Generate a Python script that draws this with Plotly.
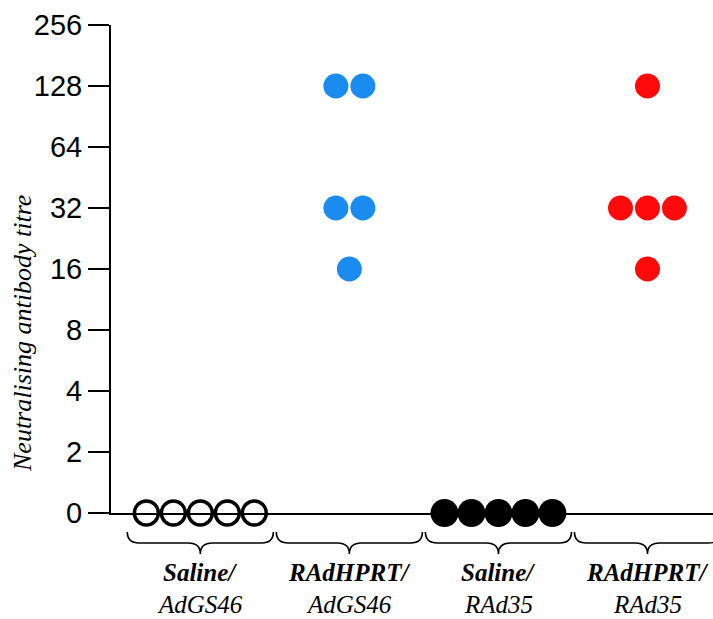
import math
import plotly.graph_objects as go

# ---- data ----
group_line1 = ["Saline/", "RAdHPRT/", "Saline/", "RAdHPRT/"]
group_line2 = ["AdGS46", "AdGS46", "RAd35", "RAd35"]
saline_adgs46 = [0, 0, 0, 0, 0]
radhprt_adgs46 = [128, 128, 32, 32, 16]
saline_rad35 = [0, 0, 0, 0, 0]
radhprt_rad35 = [128, 32, 32, 32, 16]
y_tick_labels = ["0", "2", "4", "8", "16", "32", "64", "128", "256"]

series = [
    (saline_adgs46, dict(symbol="circle-open", size=24, color="black", line=dict(width=3.5, color="black"))),
    (radhprt_adgs46, dict(symbol="circle", size=25, color="#1a8cf0", line=dict(width=0))),
    (saline_rad35, dict(symbol="circle", size=28, color="black", line=dict(width=0))),
    (radhprt_rad35, dict(symbol="circle", size=25, color="#ff0a0a", line=dict(width=0))),
]

STEP = 0.181  # horizontal spacing of stacked points (in group units)


def pos(v):
    return math.log2(v) if v > 0 else 0.0


fig = go.Figure()
for gi, (vals, mk) in enumerate(series):
    centre = gi + 1
    xs, ys = [], []
    seen = {}
    for v in vals:
        seen[v] = seen.get(v, 0) + 1
    idx = {}
    for v in vals:
        n = seen[v]
        i = idx.get(v, 0)
        idx[v] = i + 1
        xs.append(centre + (i - (n - 1) / 2) * STEP)
        ys.append(pos(v))
    fig.add_trace(go.Scatter(x=xs, y=ys, mode="markers", marker=mk,
                             cliponaxis=False, showlegend=False, hoverinfo="skip"))


def py(px):  # pixel row -> paper y
    return (513 - px) / 488.0


half = 0.49
hook = 0.08
top, mid, bot = py(532), py(543), py(554)
for gi in range(4):
    c = gi + 1
    x0, x1 = c - half, c + half
    path = (f"M {x0},{top} Q {x0},{mid} {x0+hook},{mid} "
            f"L {c-hook},{mid} Q {c},{mid} {c},{bot} "
            f"Q {c},{mid} {c+hook},{mid} "
            f"L {x1-hook},{mid} Q {x1},{mid} {x1},{top}")
    fig.add_shape(type="path", path=path, xref="x", yref="paper",
                  line=dict(color="black", width=1.6))
    fig.add_annotation(x=c, y=py(572), xref="x", yref="paper", showarrow=False,
                       text=f"<b><i>{group_line1[gi]}</i></b>",
                       font=dict(family="Liberation Serif", size=25, color="black"),
                       xanchor="center", yanchor="middle")
    fig.add_annotation(x=c, y=py(605), xref="x", yref="paper", showarrow=False,
                       text=f"<i>{group_line2[gi]}</i>",
                       font=dict(family="Liberation Serif", size=25, color="black"),
                       xanchor="center", yanchor="middle")

fig.add_annotation(x=(23 - 111) / 602.0, y=py(333), xref="paper", yref="paper",
                   showarrow=False, textangle=-90,
                   xanchor="center", yanchor="middle",
                   text="<i>Neutralising antibody titre</i>",
                   font=dict(family="Liberation Serif", size=26, color="black"))

fig.update_yaxes(range=[0, 8], tickvals=list(range(9)), ticktext=y_tick_labels,
                 ticks="outside", ticklen=21, tickwidth=2, tickcolor="black",
                 showline=True, linewidth=2, linecolor="black",
                 showgrid=False, zeroline=False,
                 tickfont=dict(family="Liberation Sans", size=29, color="black"))
fig.update_xaxes(range=[0.4007, 4.4396], showticklabels=False, ticks="",
                 showline=True, linewidth=2, linecolor="black",
                 showgrid=False, zeroline=False)

fig.update_layout(width=713, height=619, margin=dict(l=111, r=0, t=25, b=106),
                  plot_bgcolor="white", paper_bgcolor="white")

fig.write_html("out.html", config={"displayModeBar": False},
               post_script="document.body.style.margin='0px';document.body.style.overflow='hidden';")
